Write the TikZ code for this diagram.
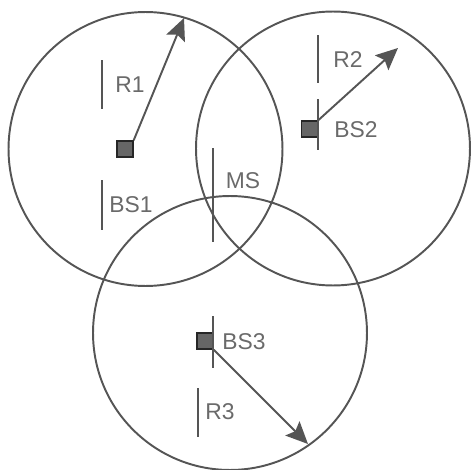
\documentclass[tikz,border=0pt]{standalone}
\usepackage{fontspec}
\setmainfont{Liberation Sans}
\usetikzlibrary{arrows.meta, positioning}
\definecolor{linegray}{HTML}{555555}
\definecolor{boxgray}{HTML}{666666}
\definecolor{textgray}{HTML}{6A6A6A}

\begin{document}
\begin{tikzpicture}[
  x=0.02cm, y=-0.02cm,
  cell/.style={draw=linegray, line width=1.1pt},
  station/.style={rectangle, draw=black!85, fill=boxgray, line width=0.8pt, minimum size=0.32cm, inner sep=0pt},
  tag/.style={font=\fontsize{13}{15}\selectfont, text=textgray, inner sep=0pt},
  bar/.style={draw=linegray, line width=1.1pt},
  rangearrow/.style={draw=linegray, line width=1.1pt, -{Stealth[length=0.44cm, width=0.4cm, inset=0.08cm]}}
]
  \useasboundingbox (0,0) rectangle (471,470);

  % coverage circles
  \draw[cell] (145.5,149) circle[radius=2.74cm];
  \draw[cell] (333,148.5) circle[radius=2.74cm];
  \draw[cell] (230,333) circle[radius=2.74cm];

  % base stations
  \node[station] (bs1) at (125,149) {};
  \node[station] (bs2) at (309.5,129) {};
  \node[station] (bs3) at (205,341) {};

  % text frames
  \draw[bar] (102,60) -- (102,109);
  \draw[bar] (102,180) -- (102,230);
  \draw[bar] (318,35) -- (318,83);
  \draw[bar] (318,99) -- (318,150);
  \draw[bar] (213,148) -- (213,242);
  \draw[bar] (213,316) -- (213,368);
  \draw[bar] (198,388) -- (198,437);

  \node[tag] (r1) at (130,85) {R1};
  \node[tag] (bs1label) at (131,205) {BS1};
  \node[tag] (r2) at (348,60) {R2};
  \node[tag] (bs2label) at (356,130) {BS2};
  \node[tag] (ms) at (243,181) {MS};
  \node[tag] (bs3label) at (244,342) {BS3};
  \node[tag] (r3) at (220,412) {R3};

  % ranges
  \coordinate (r1end) at (184,18);
  \coordinate (r2end) at (398,48);
  \coordinate (r3end) at (308,444);
  \draw[rangearrow] (bs1.north east) -- (r1end);
  \draw[rangearrow] (bs2.north east) -- (r2end);
  \draw[rangearrow] (bs3.south east) -- (r3end);
\end{tikzpicture}
\end{document}
